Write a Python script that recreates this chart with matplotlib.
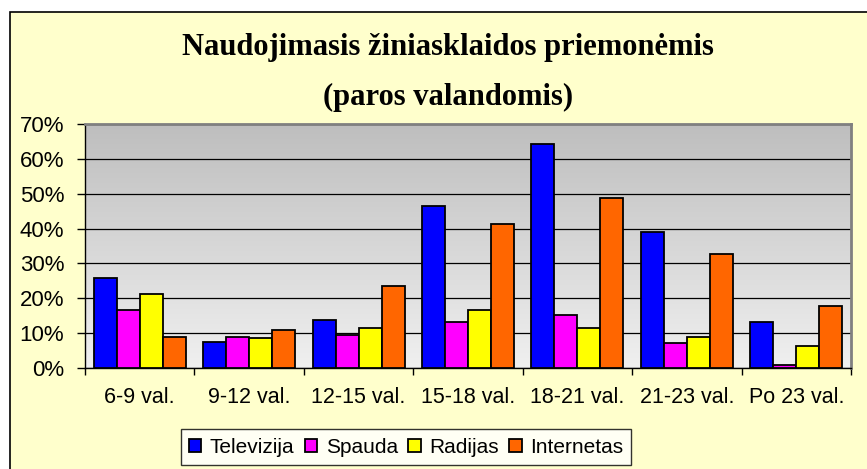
import numpy as np
import matplotlib.pyplot as plt
from matplotlib.patches import Rectangle
from matplotlib.colors import LinearSegmentedColormap
from matplotlib.ticker import FixedLocator, NullFormatter, PercentFormatter

# Duomenys (procentais)
categories = ['6-9 val.', '9-12 val.', '12-15 val.', '15-18 val.',
              '18-21 val.', '21-23 val.', 'Po 23 val.']
series_names = ['Televizija', 'Spauda', 'Radijas', 'Internetas']
televizija = [25.7, 7.4, 13.7, 46.4, 64.2, 38.9, 13.2]
spauda = [16.5, 9.0, 9.6, 13.1, 15.3, 7.3, 1.0]
radijas = [21.2, 8.5, 11.4, 16.5, 11.4, 9.0, 6.2]
internetas = [9.0, 10.8, 23.4, 41.2, 48.7, 32.6, 17.7]
colors = ['#0000FF', '#FF00FF', '#FFFF00', '#FF6600']

series = [televizija, spauda, radijas, internetas]

plt.rcParams['font.family'] = ['Liberation Sans', 'DejaVu Sans']

fig = plt.figure(figsize=(8.67, 4.69), dpi=100)
fig.patch.set_facecolor('white')

# fonas su rėmeliu
fig.patches.append(Rectangle((10 / 867, -0.05), 1.1, 1 - 12 / 469 + 0.05,
                             transform=fig.transFigure, facecolor='#FFFFCC',
                             edgecolor='black', linewidth=1.2, zorder=-5))

ax = fig.add_axes([85 / 867, 1 - 368 / 469, (851 - 85) / 867, (368 - 124) / 469])
ax.set_facecolor('none')

# pilkas gradientas
grad = np.linspace(0, 1, 256).reshape(-1, 1)
ax.imshow(grad, extent=[-0.5, len(categories) - 0.5, 0, 70], aspect='auto',
          cmap=LinearSegmentedColormap.from_list('g', ['#F0F0F0', '#BEBEBE']),
          origin='lower', zorder=0)

x = np.arange(len(categories))
w = 0.21
offsets = (np.arange(4) - 1.5) * w
for vals, name, c, off in zip(series, series_names, colors, offsets):
    ax.bar(x + off, vals, width=w, color=c, edgecolor='black', linewidth=1.3,
           label=name, zorder=3)

ax.set_xlim(-0.5, len(categories) - 0.5)
ax.set_ylim(0, 70)
ax.yaxis.set_major_locator(FixedLocator(np.arange(0, 71, 10)))
ax.yaxis.set_major_formatter(PercentFormatter(decimals=0))
ax.grid(axis='y', color='black', linewidth=0.9, zorder=1)
ax.set_axisbelow(True)

ax.set_xticks(x)
ax.set_xticklabels(categories, fontsize=15.5)
ax.xaxis.set_minor_locator(FixedLocator(np.arange(-0.5, len(categories), 1)))
ax.xaxis.set_minor_formatter(NullFormatter())
ax.tick_params(axis='x', which='major', length=0, pad=14)
ax.tick_params(axis='x', which='minor', length=5, direction='out', width=1)
ax.tick_params(axis='y', length=6, direction='out', width=1, labelsize=16, pad=9)

for s in ['top', 'right']:
    ax.spines[s].set_color('#808080')
    ax.spines[s].set_linewidth(2)
for s in ['left', 'bottom']:
    ax.spines[s].set_color('black')
    ax.spines[s].set_linewidth(1)

title_font = ['Liberation Serif', 'DejaVu Serif']
fig.text(0.517, 1 - 48 / 469, 'Naudojimasis žiniasklaidos priemonėmis',
         ha='center', va='center', fontsize=22, fontweight='bold', family=title_font)
fig.text(0.517, 1 - 97 / 469, '(paros valandomis)',
         ha='center', va='center', fontsize=22, fontweight='bold', family=title_font)

leg = fig.legend(loc='center', bbox_to_anchor=(406 / 867, 1 - 447 / 469), ncol=4,
                 fontsize=15, frameon=True, fancybox=False, edgecolor='black',
                 handlelength=0.6, handleheight=0.6, handletextpad=0.4,
                 columnspacing=0.5, borderpad=0.4)
leg.get_frame().set_facecolor('white')
leg.get_frame().set_linewidth(1)

fig.savefig('out.png', dpi=100)
